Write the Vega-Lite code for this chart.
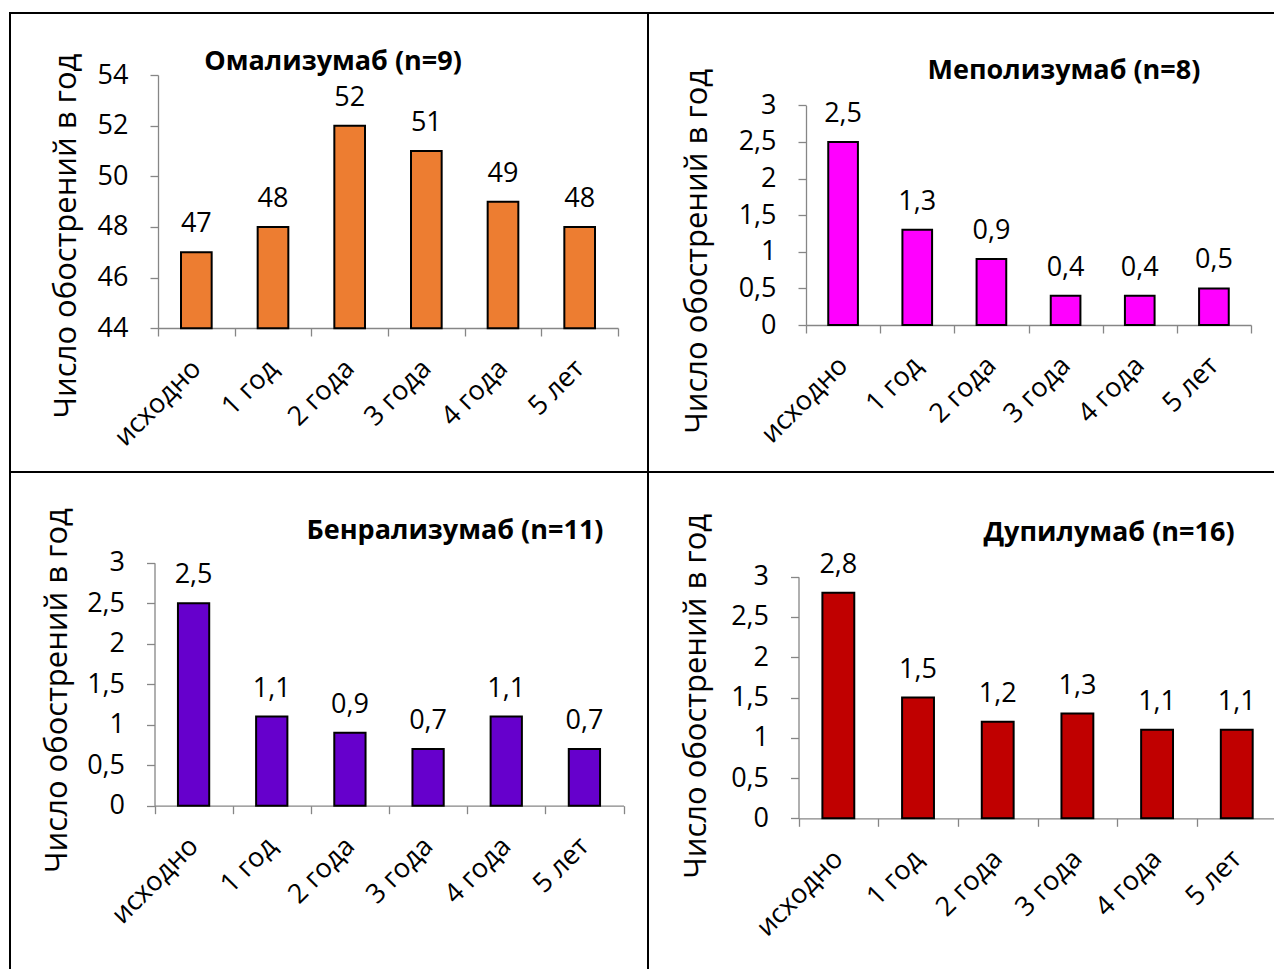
{
  "$schema": "https://vega.github.io/schema/vega-lite/v6.json",
  "background": "white",
  "padding": {"left": -1, "top": 12, "right": 0, "bottom": 0},
  "data": {
    "values": [
      {"drug": "Омализумаб", "period": "исходно", "value": 47},
      {"drug": "Омализумаб", "period": "1 год", "value": 48},
      {"drug": "Омализумаб", "period": "2 года", "value": 52},
      {"drug": "Омализумаб", "period": "3 года", "value": 51},
      {"drug": "Омализумаб", "period": "4 года", "value": 49},
      {"drug": "Омализумаб", "period": "5 лет", "value": 48},
      {"drug": "Меполизумаб", "period": "исходно", "value": 2.5},
      {"drug": "Меполизумаб", "period": "1 год", "value": 1.3},
      {"drug": "Меполизумаб", "period": "2 года", "value": 0.9},
      {"drug": "Меполизумаб", "period": "3 года", "value": 0.4},
      {"drug": "Меполизумаб", "period": "4 года", "value": 0.4},
      {"drug": "Меполизумаб", "period": "5 лет", "value": 0.5},
      {"drug": "Бенрализумаб", "period": "исходно", "value": 2.5},
      {"drug": "Бенрализумаб", "period": "1 год", "value": 1.1},
      {"drug": "Бенрализумаб", "period": "2 года", "value": 0.9},
      {"drug": "Бенрализумаб", "period": "3 года", "value": 0.7},
      {"drug": "Бенрализумаб", "period": "4 года", "value": 1.1},
      {"drug": "Бенрализумаб", "period": "5 лет", "value": 0.7},
      {"drug": "Дупилумаб", "period": "исходно", "value": 2.8},
      {"drug": "Дупилумаб", "period": "1 год", "value": 1.5},
      {"drug": "Дупилумаб", "period": "2 года", "value": 1.2},
      {"drug": "Дупилумаб", "period": "3 года", "value": 1.3},
      {"drug": "Дупилумаб", "period": "4 года", "value": 1.1},
      {"drug": "Дупилумаб", "period": "5 лет", "value": 1.1}
    ]
  },
  "columns": 2,
  "spacing": 0,
  "bounds": "flush",
  "concat": [
    {
      "width": 638,
      "height": 459,
      "title": {"text": "Омализумаб (n=9)", "dx": 4, "offset": -63},
      "transform": [{"filter": "datum.drug === 'Омализумаб'"}],
      "encoding": {
        "x": {
          "field": "period", "type": "nominal",
          "sort": ["исходно", "1 год", "2 года", "3 года", "4 года", "5 лет"],
          "scale": {"range": [148, 608], "paddingInner": 0, "paddingOuter": 0},
          "axis": {"offset": -144}
        },
        "y": {
          "field": "value", "type": "quantitative",
          "scale": {"domain": [44, 54], "range": [315.3, 62], "nice": false, "zero": false},
          "axis": {"values": [44, 46, 48, 50, 52, 54], "offset": -148, "title": "Число обострений в год", "titleX": -83, "titleY": 222.5}
        }
      },
      "layer": [
        {"mark": {"type": "bar", "width": {"band": 0.4}, "color": "#ED7D31", "stroke": "black", "strokeWidth": 2}, "encoding": {"y2": {"datum": 44}}},
        {"mark": {"type": "text", "baseline": "alphabetic", "dy": -20, "fontSize": 27, "font": "Open Sans", "color": "black"}, "encoding": {"text": {"field": "value", "type": "quantitative", "format": "~g"}}}
      ]
    },
    {
      "width": 628,
      "height": 459,
      "title": {"text": "Меполизумаб (n=8)", "dx": 102, "offset": -72},
      "transform": [{"filter": "datum.drug === 'Меполизумаб'"}],
      "encoding": {
        "x": {
          "field": "period", "type": "nominal",
          "sort": ["исходно", "1 год", "2 года", "3 года", "4 года", "5 лет"],
          "scale": {"range": [158, 603], "paddingInner": 0, "paddingOuter": 0},
          "axis": {"offset": -147}
        },
        "y": {
          "field": "value", "type": "quantitative",
          "scale": {"domain": [0, 3], "range": [312, 92.3], "nice": false},
          "axis": {"values": [0, 0.5, 1, 1.5, 2, 2.5, 3], "offset": -158, "title": "Число обострений в год", "titleX": -100, "titleY": 237.8}
        }
      },
      "layer": [
        {"mark": {"type": "bar", "width": {"band": 0.4}, "color": "#FF00FF", "stroke": "black", "strokeWidth": 2}, "encoding": {"y2": {"datum": 0}}},
        {"mark": {"type": "text", "baseline": "alphabetic", "dy": -20, "fontSize": 27, "font": "Open Sans", "color": "black"}, "encoding": {"text": {"field": "value", "type": "quantitative", "format": "~g"}}}
      ]
    },
    {
      "width": 638,
      "height": 499,
      "title": {"text": "Бенрализумаб (n=11)", "dx": 126, "offset": -73},
      "transform": [{"filter": "datum.drug === 'Бенрализумаб'"}],
      "encoding": {
        "x": {
          "field": "period", "type": "nominal",
          "sort": ["исходно", "1 год", "2 года", "3 года", "4 года", "5 лет"],
          "scale": {"range": [144.5, 613.5], "paddingInner": 0, "paddingOuter": 0},
          "axis": {"offset": -165.3}
        },
        "y": {
          "field": "value", "type": "quantitative",
          "scale": {"domain": [0, 3], "range": [333.7, 90.7], "nice": false},
          "axis": {"values": [0, 0.5, 1, 1.5, 2, 2.5, 3], "offset": -144.5, "title": "Число обострений в год", "titleX": -88.5, "titleY": 218}
        }
      },
      "layer": [
        {"mark": {"type": "bar", "width": {"band": 0.4}, "color": "#6600CC", "stroke": "black", "strokeWidth": 2}, "encoding": {"y2": {"datum": 0}}},
        {"mark": {"type": "text", "baseline": "alphabetic", "dy": -20, "fontSize": 27, "font": "Open Sans", "color": "black"}, "encoding": {"text": {"field": "value", "type": "quantitative", "format": "~g"}}}
      ]
    },
    {
      "width": 628,
      "height": 499,
      "title": {"text": "Дупилумаб (n=16)", "dx": 147, "offset": -75},
      "transform": [{"filter": "datum.drug === 'Дупилумаб'"}],
      "encoding": {
        "x": {
          "field": "period", "type": "nominal",
          "sort": ["исходно", "1 год", "2 года", "3 года", "4 года", "5 лет"],
          "scale": {"range": [150.5, 628.6], "paddingInner": 0, "paddingOuter": 0},
          "axis": {"offset": -152.7}
        },
        "y": {
          "field": "value", "type": "quantitative",
          "scale": {"domain": [0, 3], "range": [346.3, 104.7], "nice": false},
          "axis": {"values": [0, 0.5, 1, 1.5, 2, 2.5, 3], "offset": -150.5, "title": "Число обострений в год", "titleX": -93.5, "titleY": 223.8}
        }
      },
      "layer": [
        {"mark": {"type": "bar", "width": {"band": 0.4}, "color": "#C00000", "stroke": "black", "strokeWidth": 2}, "encoding": {"y2": {"datum": 0}}},
        {"mark": {"type": "text", "baseline": "alphabetic", "dy": -20, "fontSize": 27, "font": "Open Sans", "color": "black"}, "encoding": {"text": {"field": "value", "type": "quantitative", "format": "~g"}}}
      ]
    }
  ],
  "config": {
    "locale": {"number": {"decimal": ",", "thousands": " ", "grouping": [3], "currency": ["", " ₽"]}},
    "view": {"stroke": "black", "strokeWidth": 2},
    "title": {"font": "Open Sans", "fontSize": 27, "fontWeight": "bold", "color": "black", "anchor": "middle", "baseline": "alphabetic"},
    "axis": {
      "grid": false,
      "domainColor": "#868686",
      "domainWidth": 1.3,
      "tickColor": "#868686",
      "tickWidth": 1.3,
      "tickSize": 8,
      "labelFont": "Open Sans",
      "labelFontSize": 27,
      "labelColor": "black",
      "titleFont": "Open Sans",
      "titleFontSize": 31,
      "titleFontWeight": "normal",
      "titleColor": "black"
    },
    "axisX": {
      "title": null,
      "tickBand": "extent",
      "labelAngle": -45,
      "labelAlign": "right",
      "labelBaseline": "middle",
      "labelPadding": 28,
      "labelFontSize": 27,
      "labelOverlap": false,
      "labelBound": false
    },
    "axisY": {
      "format": "~g",
      "labelPadding": 22,
      "titleAngle": -90,
      "titleAlign": "center",
      "titleBaseline": "alphabetic"
    }
  }
}
